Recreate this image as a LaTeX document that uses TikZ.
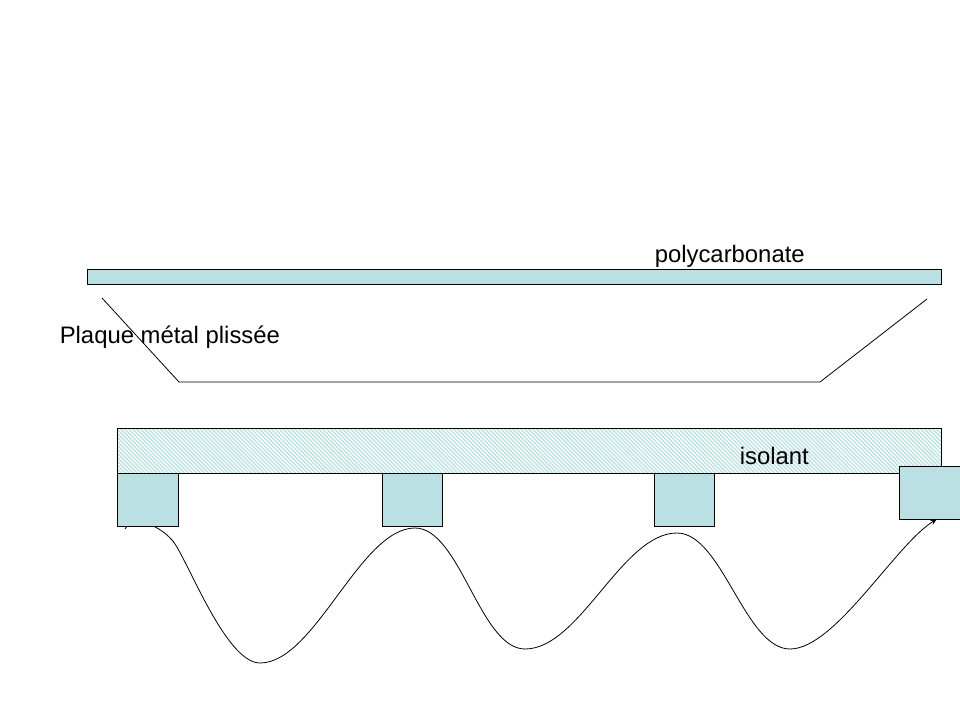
\documentclass[tikz,border=0pt]{standalone}
\usepackage{fontspec}
\setmainfont{Liberation Sans}
\usepackage{xcolor}
\usetikzlibrary{arrows.meta,positioning,patterns.meta}
\definecolor{platecyan}{HTML}{BBE0E3}

\begin{document}
\begin{tikzpicture}[
    x=0.75pt, y=-0.75pt,
    panel/.style={draw=black, line width=0.75pt, fill=platecyan, inner sep=0pt, outer sep=0pt,
                  minimum width=#1*0.75pt, anchor=north west},
    padbox/.style={panel=#1, minimum height=53*0.75pt},
    lbl/.style={font=\fontsize{17.9pt}{20pt}\selectfont, inner sep=0pt},
    thin line/.style={draw=black, line width=0.6pt}
  ]
    \useasboundingbox (0,0) rectangle (960,720);

    % Wave goes first, the pads sit on top of it
    \coordinate (wavestart) at (125,529);
    \coordinate (trougha) at (260,663);
    \coordinate (peaka) at (415,528);
    \coordinate (troughb) at (525,649);
    \coordinate (peakb) at (677,533);
    \coordinate (troughc) at (790,649);
    \coordinate (waveend) at (937,519);
    \draw[thin line, -{Stealth[length=5pt,width=4pt]}] (wavestart)
      .. controls (130,516) and (156,522) .. (172,540)
      .. controls (186,555) and (225,663) .. (trougha)
      .. controls (315,663) and (360,528) .. (peaka)
      .. controls (460,528) and (480,649) .. (troughb)
      .. controls (580,649) and (622,533) .. (peakb)
      .. controls (722,533) and (745,649) .. (troughc)
      .. controls (835,649) and (895,545) .. (waveend);

    % Polycarbonate sheet
    \node[panel=854, minimum height=15.5*0.75pt] (sheet) at (87.5,269.5) {};
    \node[lbl, anchor=base west] (sheetlabel) at (654.5,262.5) {polycarbonate};

    % Pleated metal plate
    \coordinate (platea) at (102,298);
    \coordinate (plateb) at (179,382);
    \coordinate (platec) at (820,382);
    \coordinate (plated) at (927,299);
    \draw[thin line] (platea) -- (plateb) -- (platec) -- (plated);
    \node[lbl, anchor=base west] (platelabel) at (59.5,343) {Plaque métal plissée};

    % Insulation and pads
    \node[draw=black, line width=0.75pt, inner sep=0pt, outer sep=0pt, anchor=north west,
          minimum width=824*0.75pt, minimum height=45*0.75pt,
          pattern={Lines[angle=-45,distance=2.1pt,line width=1pt]}, pattern color=platecyan]
      (isolant) at (117.5,428.5) {};
    \node[lbl, anchor=base west] (isolantlabel) at (739.5,464) {isolant};
    \node[padbox=61] (pada) at (117.5,473.5) {};
    \node[padbox=60] (padb) at (382.5,473.5) {};
    \node[padbox=60] (padc) at (654.5,473.5) {};
    \node[panel=62, minimum height=53*0.75pt] (padd) at (899.5,466.5) {};
\end{tikzpicture}
\end{document}
